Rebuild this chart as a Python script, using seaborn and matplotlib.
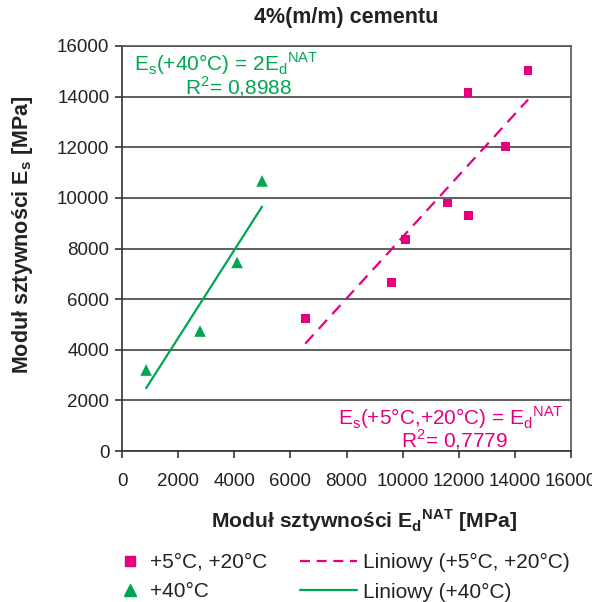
import numpy as np
import pandas as pd
import matplotlib
matplotlib.use("Agg")
import matplotlib.pyplot as plt
from matplotlib.lines import Line2D
import seaborn as sns

# ---- data ----
x_5_20 = [6530, 9610, 10110, 11590, 12350, 12330, 13670, 14470]
y_5_20 = [5240, 6650, 8360, 9800, 9310, 14160, 12020, 15040]
x_40 = [860, 2780, 4100, 4990]
y_40 = [3200, 4740, 7450, 10670]
label_5_20 = "+5°C, +20°C"
label_40 = "+40°C"
trend_5_20 = "Liniowy (+5°C, +20°C)"
trend_40 = "Liniowy (+40°C)"
x_ticks = [0, 2000, 4000, 6000, 8000, 10000, 12000, 14000, 16000]
y_ticks = [0, 2000, 4000, 6000, 8000, 10000, 12000, 14000, 16000]
title = "4%(m/m) cementu"
xlabel = r"Moduł sztywności E$_\mathregular{d}$$^\mathregular{NAT}$ [MPa]"
ylabel = r"Moduł sztywności E$_\mathregular{s}$ [MPa]"
eq_40 = r"E$_\mathregular{s}$(+40°C) = 2E$_\mathregular{d}$$^\mathregular{NAT}$"
r2_40 = r"R$^\mathregular{2}$= 0,8988"
eq_5_20 = r"E$_\mathregular{s}$(+5°C,+20°C) = E$_\mathregular{d}$$^\mathregular{NAT}$"
r2_5_20 = r"R$^\mathregular{2}$= 0,7779"

PINK = "#E6007E"
GREEN = "#00A650"
TXT = "#222222"

sns.set_style("white")
plt.rcParams["font.family"] = ["Liberation Sans", "DejaVu Sans"]
plt.rcParams["mathtext.fontset"] = "custom"
plt.rcParams["mathtext.rm"] = "Liberation Sans"
plt.rcParams["mathtext.bf"] = "Liberation Sans:bold"

df_a = pd.DataFrame({"x": x_5_20, "y": y_5_20})
df_b = pd.DataFrame({"x": x_40, "y": y_40})

fig = plt.figure(figsize=(5.92, 6.02), dpi=100)
ax = fig.add_axes([122/592, 1-451/602, 449/592, 405/602])

# trend lines
sns.regplot(data=df_a, x="x", y="y", scatter=False, ci=None, ax=ax,
            line_kws=dict(color=PINK, lw=1.6, ls=(0, (5.5, 3.5))))
sns.regplot(data=df_b, x="x", y="y", scatter=False, ci=None, ax=ax,
            line_kws=dict(color=GREEN, lw=1.6, ls="-"))
# points
sns.scatterplot(data=df_a, x="x", y="y", marker="s", s=40, color=PINK,
                edgecolor="none", ax=ax, zorder=5)
sns.scatterplot(data=df_b, x="x", y="y", marker="^", s=70, color=GREEN,
                edgecolor="none", ax=ax, zorder=5)

ax.set_xlim(0, 16000)
ax.set_ylim(0, 16000)
ax.set_xticks(x_ticks)
ax.set_yticks(y_ticks)
ax.set_xticklabels([str(t) for t in x_ticks])
ax.set_yticklabels([str(t) for t in y_ticks])
ax.tick_params(axis="both", labelsize=13.5, labelcolor=TXT, color="#333333",
               length=5, width=1.2, direction="out", bottom=True, left=True)
ax.tick_params(axis="x", pad=11)
ax.tick_params(axis="y", pad=4)
ax.yaxis.grid(True, color="#444444", lw=1.2)
ax.xaxis.grid(False)
ax.set_axisbelow(True)
for sp in ax.spines.values():
    sp.set_color("#555555")
    sp.set_linewidth(1.2)
ax.spines["left"].set_color("#333333")
ax.spines["bottom"].set_color("#333333")

ax.set_xlabel(xlabel, fontsize=15.2, fontweight="bold", color=TXT, va="center")
ax.set_ylabel(ylabel, fontsize=15.5, fontweight="bold", color=TXT, va="center")
ax.xaxis.set_label_coords((363.5-122)/449, -(521-451)/405)
ax.yaxis.set_label_coords((23-122)/449, (451-235)/405)
ax.set_title(title, fontsize=15.5, fontweight="bold", color=TXT, y=1.035)

# annotations
ax.text((226-122)/449, (451-64)/405, eq_40, transform=ax.transAxes, color=GREEN,
        fontsize=15, ha="center", va="center")
ax.text((238-122)/449, (451-87)/405, r2_40, transform=ax.transAxes, color=GREEN,
        fontsize=15, ha="center", va="center")
ax.text((451-122)/449, (451-418)/405, eq_5_20, transform=ax.transAxes, color=PINK,
        fontsize=15, ha="center", va="center")
ax.text((454-122)/449, (451-440)/405, r2_5_20, transform=ax.transAxes, color=PINK,
        fontsize=15, ha="center", va="center")

# legends
h1 = [Line2D([], [], marker="s", ls="none", color=PINK, markersize=6.5),
      Line2D([], [], marker="^", ls="none", color=GREEN, markersize=8)]
leg1 = fig.legend(h1, [label_5_20, label_40], loc="upper left",
                  bbox_to_anchor=(120/592, 1-553/602), frameon=False,
                  fontsize=15, handlelength=1.0, handletextpad=0.43,
                  labelspacing=0.5, borderpad=0, borderaxespad=0)
h2 = [Line2D([], [], color=PINK, lw=1.6, ls=(0, (4.5, 3))),
      Line2D([], [], color=GREEN, lw=1.6, ls="-")]
leg2 = fig.legend(h2, [trend_5_20, trend_40], loc="upper left",
                  bbox_to_anchor=(300/592, 1-553/602), frameon=False,
                  fontsize=15, handlelength=2.74, handletextpad=0.29,
                  labelspacing=0.5, borderpad=0, borderaxespad=0)
for t in leg1.get_texts() + leg2.get_texts():
    t.set_color(TXT)

fig.savefig("out.png", dpi=100)
